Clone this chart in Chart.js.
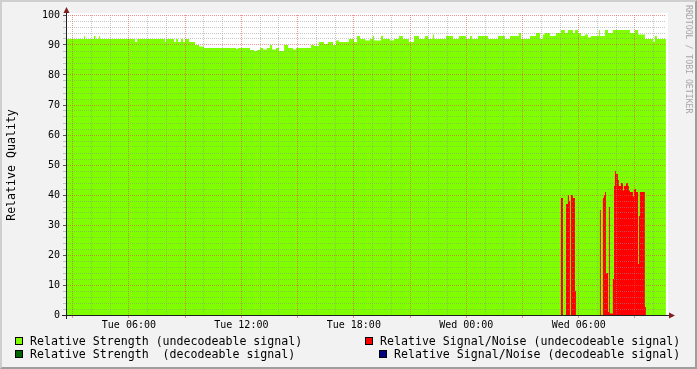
<!DOCTYPE html>
<html lang="en">
<head>
<meta charset="UTF-8">
<title>Relative Quality</title>
<script src="https://cdn.jsdelivr.net/npm/chart.js"></script>
<style>
  body { margin: 0; background: #f2f2f2; }
  .frame { position: relative; width: 697px; height: 369px; background: #f2f2f2; overflow: hidden; }
  .frame::after {
    content: ''; position: absolute; left: 0; top: 0; right: 0; bottom: 0; box-sizing: border-box;
    border-top: 2px solid #cfcfcf; border-left: 2px solid #cfcfcf;
    border-right: 2px solid #9e9e9e; border-bottom: 2px solid #9e9e9e; pointer-events: none;
  }
  canvas { position: absolute; left: 0; top: 0; }
  .key { position: absolute; width: 6px; height: 6px; border: 1px solid #000; }
  .txt { position: absolute; font: 11.6px "DejaVu Sans Mono", monospace; line-height: 13px; white-space: pre; color: #000; }
  .mark { position: absolute; left: 684px; top: 5px; writing-mode: vertical-rl; font: 8.2px "DejaVu Sans Mono", monospace; line-height: 9px; color: #a6a6a6; }
</style>
</head>
<body>
<div class="frame">
  <canvas id="quality" width="697" height="369"></canvas>

  <div class="key" style="left:15px; top:337px; background:#7fff00"></div>
  <div class="txt" style="left:30px; top:335px">Relative Strength (undecodeable signal)</div>
  <div class="key" style="left:15px; top:350px; background:#006400"></div>
  <div class="txt" style="left:30px; top:348px">Relative Strength  (decodeable signal)</div>

  <div class="key" style="left:365px; top:337px; background:#ff0000"></div>
  <div class="txt" style="left:380px; top:335px">Relative Signal/Noise (undecodeable signal)</div>
  <div class="key" style="left:379px; top:350px; background:#000080"></div>
  <div class="txt" style="left:394px; top:348px">Relative Signal/Noise (decodeable signal)</div>

  <div class="mark">RRDTOOL / TOBI OETIKER</div>
</div>

<script>
  // time in hours from Tue 00:00, each value holds until the next time
  const X_MIN = 2.645;
  const X_MAX = 34.655;
  const DAYS = ['Tue', 'Wed'];

  const strengthHours = [
    2.65, 3.61, 3.66, 4.14, 4.22, 4.41, 4.46, 6.33, 6.44, 7.93, 7.98, 8.41, 8.52, 8.62, 8.78, 8.89,
    9.00, 9.21, 9.53, 9.74, 10.01, 11.72, 11.82, 12.46, 12.68, 12.84, 13.00, 13.16, 13.37, 13.53, 13.64, 13.85,
    14.01, 14.28, 14.49, 14.76, 14.92, 15.72, 15.88, 16.14, 16.41, 16.62, 16.89, 17.05, 17.21, 17.74, 18.01, 18.17,
    18.33, 18.60, 18.86, 19.02, 19.08, 19.45, 19.56, 19.93, 20.14, 20.41, 20.62, 20.94, 21.21, 21.48, 21.80, 21.96,
    22.22, 22.28, 22.92, 23.29, 23.61, 23.98, 24.20, 24.30, 24.62, 25.16, 25.69, 26.06, 26.33, 26.81, 26.92, 27.40,
    27.72, 27.93, 28.09, 28.20, 28.46, 28.78, 29.05, 29.26, 29.42, 29.69, 29.80, 29.96, 30.12, 30.33, 30.49, 30.65,
    31.08, 31.13, 31.40, 31.56, 31.82, 32.73, 32.99, 33.16, 33.53, 33.96, 34.06, 34.17, 34.65
  ];
  const strengthValues = [
    92, 93, 92, 93, 92, 93, 92, 91, 92, 91, 92, 91, 92, 91, 92, 91,
    92, 91, 90, 89.5, 89, 88.7, 89, 88.3, 88, 88.3, 89, 88.5, 89, 90, 88.5, 89,
    88, 90, 89, 88.5, 89, 90, 89.7, 91, 90.3, 91, 90, 91.5, 91, 92, 91, 93,
    92, 91.5, 92, 93, 91.5, 93, 92, 91.5, 92, 93, 92, 91, 93, 92, 93, 92,
    93.5, 92, 93, 92, 93, 92, 93, 92, 93, 92, 93, 92, 93, 94, 92, 93,
    94, 92, 93.5, 94, 93, 94, 95, 94, 95, 94, 95, 94, 93, 93.5, 92.5, 93,
    95, 93, 95, 94, 95, 94, 95, 93.5, 92, 91, 93, 92, 92
  ];

  const noiseHours = [
    2.65, 29.05, 29.16, 29.32, 29.42, 29.48, 29.53, 29.58, 29.69, 29.80, 29.85,
    31.13, 31.18, 31.29, 31.34, 31.40, 31.45, 31.56, 31.61, 31.66, 31.82, 31.88, 31.93, 31.98,
    32.09, 32.14, 32.25, 32.36, 32.41, 32.52, 32.62, 32.68, 32.73, 32.89, 32.94, 33.05,
    33.16, 33.21, 33.26, 33.53, 33.58, 34.65
  ];
  const noiseValues = [
    0, 39, 0, 37, 40, 38, 0, 40, 39, 8, 0,
    35, 0, 39, 40, 41, 14, 1, 36, 0.5, 12, 43, 48, 47,
    45, 43, 44, 41.5, 43, 44, 43, 41.5, 41, 39.5, 42, 41,
    17, 33, 41, 2.7, 0, 0
  ];

  const GRID = 'rgba(143,143,143,0.5)';
  const MGRID = 'rgba(222,79,79,0.6)';
  const FONT = 'DejaVu Sans Mono';

  const toPoints = (hours, values) => hours.map((h, i) => ({ x: h, y: values[i] }));

  function hourLabel(v) {
    const day = DAYS[Math.floor(v / 24)];
    const hh = String(v % 24).padStart(2, '0');
    return day + ' ' + hh + ':00';
  }

  const plotBackground = {
    id: 'plotBackground',
    beforeDraw(chart) {
      const { ctx, chartArea: a } = chart;
      ctx.save();
      ctx.fillStyle = '#ffffff';
      ctx.fillRect(a.left, a.top - 2, a.right - a.left + 2, a.bottom - a.top + 2);
      ctx.restore();
    }
  };

  const axisArrows = {
    id: 'axisArrows',
    afterDraw(chart) {
      const { ctx, chartArea: a } = chart;
      ctx.save();
      ctx.strokeStyle = '#1f1f1f';
      ctx.lineWidth = 1;
      ctx.beginPath();
      ctx.moveTo(a.left + 0.5, a.bottom + 4);
      ctx.lineTo(a.left + 0.5, a.top - 3);
      ctx.moveTo(a.left - 4, a.bottom + 0.5);
      ctx.lineTo(a.right + 4, a.bottom + 0.5);
      ctx.stroke();
      ctx.fillStyle = '#801f1f';
      ctx.beginPath();
      ctx.moveTo(a.left - 2.5, a.top - 2);
      ctx.lineTo(a.left + 3.5, a.top - 2);
      ctx.lineTo(a.left + 0.5, a.top - 8);
      ctx.fill();
      ctx.beginPath();
      ctx.moveTo(a.right + 3, a.bottom - 2.5);
      ctx.lineTo(a.right + 3, a.bottom + 3.5);
      ctx.lineTo(a.right + 9, a.bottom + 0.5);
      ctx.fill();
      ctx.restore();
    }
  };

  new Chart(document.getElementById('quality'), {
    type: 'line',
    data: {
      datasets: [
        {
          label: 'Relative Signal/Noise (undecodeable signal)',
          data: toPoints(noiseHours, noiseValues),
          stepped: 'before',
          fill: 'origin',
          backgroundColor: '#ff0000',
          borderColor: 'rgba(0,0,0,0)',
          pointRadius: 0,
          order: 1
        },
        {
          label: 'Relative Strength (undecodeable signal)',
          data: toPoints(strengthHours, strengthValues),
          stepped: 'before',
          fill: 'origin',
          backgroundColor: '#7fff00',
          borderColor: 'rgba(0,0,0,0)',
          pointRadius: 0,
          order: 2
        }
      ]
    },
    options: {
      responsive: false,
      animation: false,
      layout: { padding: { left: 0, top: 15, right: 31, bottom: 0 } },
      plugins: { legend: { display: false }, tooltip: { enabled: false } },
      scales: {
        x: {
          type: 'linear',
          min: X_MIN,
          max: X_MAX,
          afterFit(s) { s.height = 54; },
          ticks: {
            stepSize: 1,
            includeBounds: false,
            autoSkip: false,
            maxRotation: 0,
            padding: 1,
            color: '#000',
            font: { family: FONT, size: 10 },
            callback: v => (v % 6 === 0 ? hourLabel(v) : '')
          },
          grid: {
            z: 1,
            color: c => (c.tick && c.tick.value % 3 === 0 ? MGRID : GRID),
            tickColor: c => (c.tick && c.tick.value % 3 === 0 ? MGRID : 'rgba(0,0,0,0)'),
            tickLength: 3,
            lineWidth: 1
          },
          border: { display: false, dash: [1, 1] }
        },
        y: {
          min: 0,
          max: 100,
          afterFit(s) { s.width = 66; },
          ticks: {
            stepSize: 2,
            autoSkip: false,
            padding: 3,
            color: '#000',
            font: { family: FONT, size: 10 },
            callback: v => (v % 10 === 0 ? v : '')
          },
          grid: {
            z: 1,
            color: c => (c.tick && c.tick.value % 10 === 0 ? MGRID : GRID),
            tickColor: c => (c.tick && c.tick.value % 10 === 0 ? '#555' : GRID),
            tickLength: 3,
            lineWidth: 1
          },
          border: { display: false, dash: [1, 1] },
          title: {
            display: true,
            text: 'Relative Quality',
            color: '#000',
            font: { family: FONT, size: 11.6 },
            padding: { top: 5, bottom: 0 }
          }
        }
      }
    },
    plugins: [plotBackground, axisArrows]
  });
</script>
</body>
</html>
